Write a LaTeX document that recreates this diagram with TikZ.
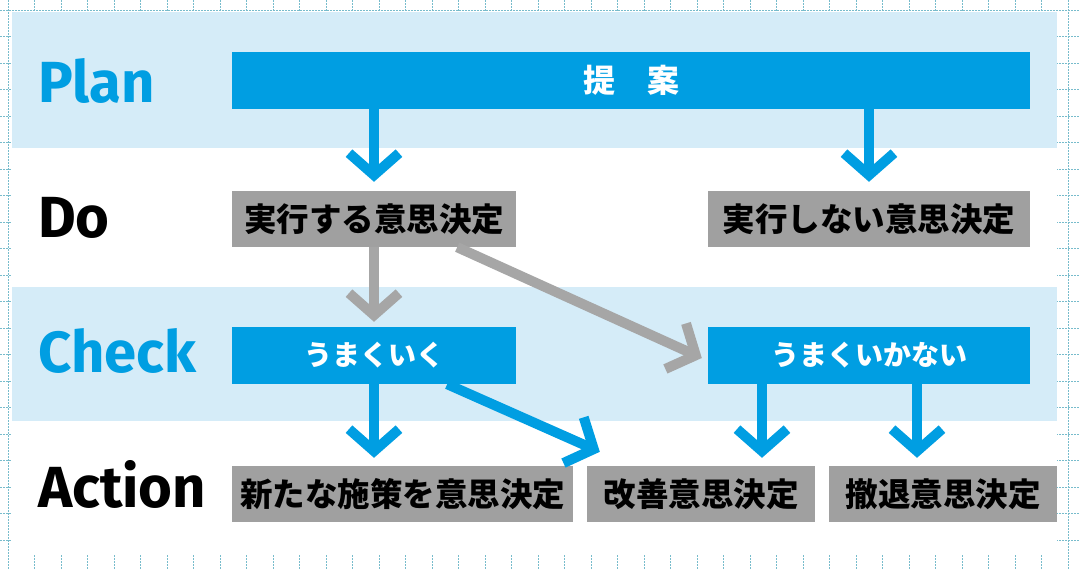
\documentclass[tikz,border=0pt]{standalone}
\usepackage{fontspec}
\newfontfamily\jpfont{Noto Sans CJK JP}
\newfontfamily\latfont{Fira Sans}
\usetikzlibrary{arrows.meta,calc}
\definecolor{pblue}{RGB}{0,158,226}
\definecolor{lband}{RGB}{213,236,248}
\definecolor{gbox}{RGB}{160,160,160}
\definecolor{garrow}{RGB}{166,166,166}
\definecolor{gridc}{RGB}{120,188,204}
\begin{document}
\begin{tikzpicture}[x=1pt,y=-1pt,
  gridline/.style={draw=gridc, line width=0.8pt, dash pattern=on 2pt off 1pt},
  band/.style={fill=lband, draw=none},
  boxbase/.style={inner sep=0pt, draw=none},
  bluebox/.style={boxbase, fill=pblue, text=white, font=\jpfont\bfseries\fontsize{28}{28}\selectfont},
  graybox/.style={boxbase, fill=gbox, text=black, font=\jpfont\bfseries\fontsize{32.5}{32.5}\selectfont},
  phase/.style={inner sep=0pt, anchor=base west, font=\latfont\bfseries\fontsize{58}{58}\selectfont},
  barb/.style={line width=10pt, -{Straight Barb[length=22pt,width=50pt]}},
  bluearrow/.style={barb, draw=pblue},
  grayarrow/.style={barb, draw=garrow}
]
\useasboundingbox (0,0) rectangle (1080,570);
\fill[white] (0,0) rectangle (1080,570);
% grid paper
\foreach \k in {0,...,40} {\draw[gridline] (8+26.5*\k,0) -- (8+26.5*\k,570);}
\foreach \k in {0,...,20} {\draw[gridline] (0,10+26.5*\k) -- (1080,10+26.5*\k);}
% content area and bands
\fill[white] (12,12) rectangle (1057,555);
\fill[band] (12,12) rectangle (1057,148);
\fill[band] (12,287) rectangle (1057,421);
% phase labels
\node[phase, text=pblue] (plan) at (38,102) {Plan};
\node[phase, text=black] (do) at (38,237) {Do};
\node[phase, text=pblue] (check) at (38,372) {Check};
\node[phase, text=black] (action) at (38,507) {Action};
% boxes
\node[bluebox, minimum width=798pt, minimum height=57pt, font=\jpfont\bfseries\fontsize{32}{32}\selectfont] (teian) at (631,80.5) {提　案};
\node[graybox, minimum width=284pt, minimum height=56pt] (jikko) at (374,219) {実行する意思決定};
\node[graybox, minimum width=322pt, minimum height=56pt] (shinai) at (869,219) {実行しない意思決定};
\node[bluebox, minimum width=284pt, minimum height=57pt] (uku) at (374,355.5) {うまくいく};
\node[bluebox, minimum width=322pt, minimum height=57pt] (ikanai) at (869,355.5) {うまくいかない};
\node[graybox, minimum width=341pt, minimum height=56pt] (arata) at (402.5,494) {新たな施策を意思決定};
\node[graybox, minimum width=228pt, minimum height=56pt] (kaizen) at (701,494) {改善意思決定};
\node[graybox, minimum width=228pt, minimum height=56pt] (tettai) at (943,494) {撤退意思決定};
% connectors
\draw[bluearrow, shorten >=9pt] (teian.south -| jikko.north) -- (jikko.north);
\draw[bluearrow, shorten >=9pt] (teian.south -| shinai.north) -- (shinai.north);
\draw[grayarrow, shorten >=5pt] (jikko.south) -- (uku.north);
\draw[grayarrow] ([xshift=-59pt]jikko.south east) -- ([shift={(-6,2.5)}]ikanai.west);
\draw[bluearrow, shorten >=8pt] (uku.south) -- (uku.south |- arata.north);
\draw[bluearrow] ([xshift=-69pt]uku.south east) -- ([shift={(13,-14)}]kaizen.north west);
\draw[bluearrow, shorten >=8pt] ([xshift=-107pt]ikanai.south) -- ([xshift=61pt]kaizen.north);
\draw[bluearrow, shorten >=8pt] ([xshift=48pt]ikanai.south) -- ([xshift=-26pt]tettai.north);
\end{tikzpicture}
\end{document}
